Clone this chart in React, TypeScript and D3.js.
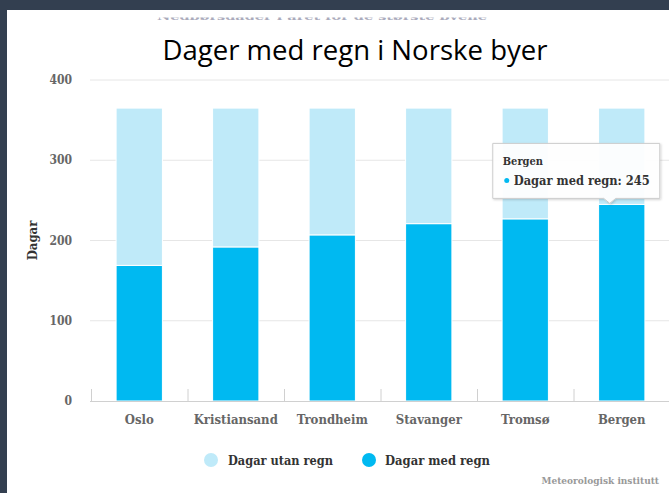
import React from "react";
import * as d3 from "d3";

const cities = ["Oslo", "Kristiansand", "Trondheim", "Stavanger", "Tromsø", "Bergen"];
const dagarMedRegn = [169, 192, 207, 221, 227, 245];
const dagarTotalt = [365, 365, 365, 365, 365, 365];
const yTicks = [0, 100, 200, 300, 400];
const seriesNames = ["Dagar utan regn", "Dagar med regn"];

const W = 669;
const H = 493;
const LIGHT = "#bfeaf9";
const DARK = "#00b9f1";
const FONT = "'DejaVu Serif Condensed', 'DejaVu Serif', serif";

export default function App() {
  const x = d3.scaleBand<string>().domain(cities).range([91, 670]);
  const y = d3.scaleLinear().domain([0, 400]).range([401, 80]);
  const bw = x.bandwidth() * 0.48;

  const rows = cities.map((c, i) => ({
    city: c,
    med: dagarMedRegn[i],
    utan: dagarTotalt[i] - dagarMedRegn[i],
  }));
  const stack = d3.stack<any>().keys(["med", "utan"])(rows);

  const tipIdx = cities.length - 1;
  const tipCx = (x(cities[tipIdx]) as number) + x.bandwidth() / 2;
  const tipY = y(dagarMedRegn[tipIdx]) - 1;
  const bx0 = tipCx - 129;
  const bx1 = tipCx + 38;
  const by0 = tipY - 60;
  const by1 = tipY - 5;
  const px = tipCx - 12;
  const tipPath = `M${bx0},${by0} L${bx1},${by0} L${bx1},${by1} L${px + 6},${by1} L${px},${tipY} L${px - 6},${by1} L${bx0},${by1} Z`;

  return (
    <svg width={W} height={H} style={{ position: "absolute", left: 0, top: 0 }}>
      <defs>
        <clipPath id="topclip">
          <rect x={0} y={17.5} width={W} height={2.5} />
        </clipPath>
        <filter id="shadow" x="-20%" y="-20%" width="140%" height="150%">
          <feDropShadow dx="1" dy="1" stdDeviation="1.2" floodColor="#000" floodOpacity="0.18" />
        </filter>
      </defs>
      <rect x={0} y={0} width={W} height={H} fill="#333f50" />
      <rect x={7} y={10} width={W - 7} height={H - 10} fill="#ffffff" />

      <text
        x={322}
        y={20}
        textAnchor="middle"
        fontFamily={FONT}
        fontWeight="bold"
        fontSize={10}
        fill="#aab"
        clipPath="url(#topclip)"
        textLength={330}
        lengthAdjust="spacingAndGlyphs"
      >
        Nedbørsdager i året for de største byene
      </text>

      <text
        x={355}
        y={60}
        textAnchor="middle"
        fontFamily="'Open Sans', 'Noto Sans', sans-serif"
        fontSize={27}
        fill="#000"
        textLength={385}
        lengthAdjust="spacingAndGlyphs"
      >
        Dager med regn i Norske byer
      </text>

      {yTicks.map((t) => (
        <g key={t}>
          {t > 0 && (
            <line x1={90} x2={W} y1={y(t)} y2={y(t)} stroke="#e6e6e6" strokeWidth={1} />
          )}
          <text
            x={72}
            y={y(t) + 4}
            textAnchor="end"
            fontFamily={FONT}
            fontWeight="bold"
            fontSize={12}
            fill="#666"
          >
            {t}
          </text>
        </g>
      ))}

      <text
        transform={`translate(37,${y(200)}) rotate(-90)`}
        textAnchor="middle"
        fontFamily={FONT}
        fontWeight="bold"
        fontSize={13}
        fill="#333"
      >
        Dagar
      </text>

      {stack.map((layer, li) => (
        <g key={li} fill={li === 0 ? DARK : LIGHT}>
          {layer.map((d: any, i: number) => (
            <rect
              key={i}
              x={(x(cities[i]) as number) + (x.bandwidth() - bw) / 2}
              y={y(d[1])}
              width={bw}
              height={y(d[0]) - y(d[1])}
              stroke="#fff"
              strokeWidth={1}
            />
          ))}
        </g>
      ))}

      <line x1={90} x2={W} y1={401.5} y2={401.5} stroke="#d0d0d0" strokeWidth={1} />
      {cities.map((c) => (
        <line
          key={c}
          x1={(x(c) as number) + 0.5}
          x2={(x(c) as number) + 0.5}
          y1={389}
          y2={401}
          stroke="#d0d0d0"
          strokeWidth={1}
        />
      ))}
      {cities.map((c) => (
        <text
          key={c}
          x={(x(c) as number) + x.bandwidth() / 2}
          y={424}
          textAnchor="middle"
          fontFamily={FONT}
          fontWeight="bold"
          fontSize={13}
          fill="#666"
        >
          {c}
        </text>
      ))}

      <g fontFamily={FONT} fontWeight="bold" fontSize={13.5} fill="#333">
        <circle cx={211} cy={460} r={7} fill={LIGHT} />
        <text x={228} y={465} textLength={105} lengthAdjust="spacingAndGlyphs">{seriesNames[0]}</text>
        <circle cx={369} cy={460} r={7} fill={DARK} />
        <text x={385} y={465} textLength={105} lengthAdjust="spacingAndGlyphs">{seriesNames[1]}</text>
      </g>

      <text
        x={659}
        y={484}
        textAnchor="end"
        fontFamily={FONT}
        fontWeight="bold"
        fontSize={10}
        fill="#999"
      >
        Meteorologisk institutt
      </text>

      <g filter="url(#shadow)">
        <path d={tipPath} fill="rgba(255,255,255,0.95)" stroke="#cccccc" strokeWidth={1} />
      </g>
      <text x={bx0 + 10} y={by0 + 22} fontFamily={FONT} fontWeight="bold" fontSize={11} fill="#333">
        {cities[tipIdx]}
      </text>
      <circle cx={bx0 + 14} cy={by0 + 37} r={2.5} fill={DARK} />
      <text
        x={bx0 + 21}
        y={by0 + 42}
        fontFamily={FONT}
        fontWeight="bold"
        fontSize={13.5}
        fill="#333"
        textLength={136}
        lengthAdjust="spacingAndGlyphs"
      >
        {seriesNames[1]}: {dagarMedRegn[tipIdx]}
      </text>
    </svg>
  );
}
